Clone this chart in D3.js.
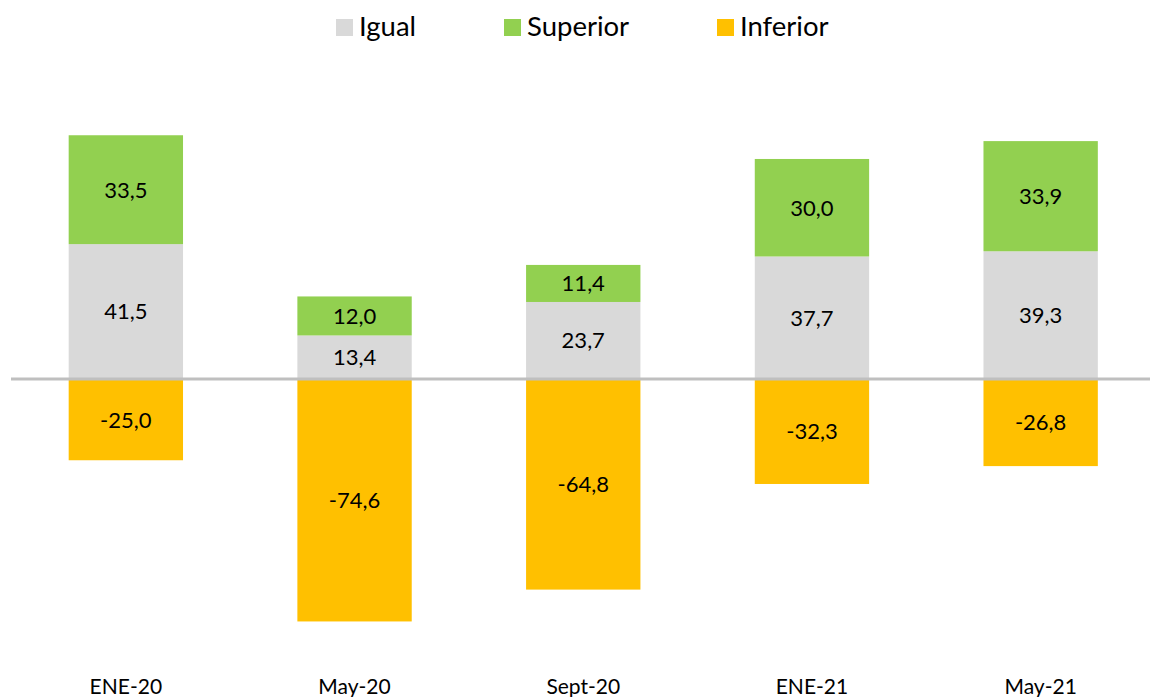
<!DOCTYPE html>
<html><head><meta charset="utf-8">
<script src="https://cdn.jsdelivr.net/npm/d3@7"></script>
<style>html,body{margin:0;padding:0;background:#fff;} svg{display:block;}</style>
</head><body>
<svg id="chart" width="1150" height="697"></svg>
<script>
const categories = ["ENE-20", "May-20", "Sept-20", "ENE-21", "May-21"];
const igual = [41.5, 13.4, 23.7, 37.7, 39.3];
const superior = [33.5, 12.0, 11.4, 30.0, 33.9];
const inferior = [-25.0, -74.6, -64.8, -32.3, -26.8];
const seriesNames = ["Igual", "Superior", "Inferior"];
const colors = {Igual: "#d9d9d9", Superior: "#92d050", Inferior: "#ffc000"};

const svg = d3.select("#chart");
const font = "Lato, 'Open Sans', sans-serif";

const x = d3.scaleBand().domain(categories).range([11.5, 1155]).paddingInner(0.5).paddingOuter(0.25);
const y = d3.scaleLinear().domain([-80, 90]).range([639, 86.5]);

const fmt = v => d3.format(".1f")(v).replace(".", ",").replace("−", "-");

const segs = [];
categories.forEach((c, i) => {
  segs.push({cat: c, s: "Igual", y0: 0, y1: igual[i], v: igual[i]});
  segs.push({cat: c, s: "Superior", y0: igual[i], y1: igual[i] + superior[i], v: superior[i]});
  segs.push({cat: c, s: "Inferior", y0: inferior[i], y1: 0, v: inferior[i]});
});

svg.append("g").selectAll("rect").data(segs).join("rect")
  .attr("x", d => x(d.cat))
  .attr("width", x.bandwidth())
  .attr("y", d => y(d.y1))
  .attr("height", d => y(d.y0) - y(d.y1))
  .attr("fill", d => colors[d.s]);

svg.append("g").selectAll("text").data(segs).join("text")
  .attr("x", d => x(d.cat) + x.bandwidth() / 2)
  .attr("y", d => (y(d.y0) + y(d.y1)) / 2)
  .attr("dy", "0.36em")
  .attr("text-anchor", "middle")
  .style("font-family", font).style("font-size", "22px").attr("fill", "#000")
  .text(d => fmt(d.v));

svg.append("line")
  .attr("x1", 11).attr("x2", 1150)
  .attr("y1", y(0)).attr("y2", y(0))
  .attr("stroke", "#bfbfbf").attr("stroke-width", 3);

svg.append("g").selectAll("text").data(categories).join("text")
  .attr("x", d => x(d) + x.bandwidth() / 2)
  .attr("y", 694)
  .attr("text-anchor", "middle")
  .style("font-family", font).style("font-size", "21px").attr("fill", "#000")
  .text(d => d);

const legendX = [336, 504, 717];
const lg = svg.append("g").selectAll("g").data(seriesNames).join("g")
  .attr("transform", (d, i) => `translate(${legendX[i]},19)`);
lg.append("rect").attr("width", 17).attr("height", 17).attr("fill", d => colors[d]);
lg.append("text").attr("x", 23).attr("y", 17)
  .style("font-family", font).style("font-size", "27.5px").attr("fill", "#000")
  .text(d => d);
</script>
</body></html>
